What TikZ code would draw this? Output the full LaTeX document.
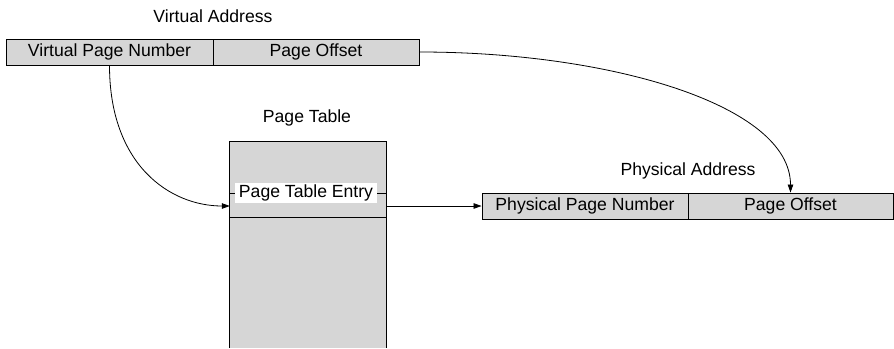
\documentclass[tikz,border=0pt]{standalone}
\usepackage{fontspec}
\setmainfont{Liberation Sans}
\usetikzlibrary{arrows.meta}
\definecolor{cellgray}{RGB}{214,214,214}
\tikzset{
  lbl/.style={font=\fontsize{17.6}{20}\selectfont, inner sep=0pt},
  field/.style={draw=black, fill=cellgray, line width=0.9pt, minimum height=26pt,
    inner sep=0pt, font=\fontsize{17.6}{20}\selectfont},
  link/.style={line width=0.8pt, -{Triangle[length=8pt,width=5.5pt]}},
}
\begin{document}
\begin{tikzpicture}[x=1pt,y=-1pt]
  \useasboundingbox (0,0) rectangle (894,348);

  % virtual address
  \node[lbl] (vatitle) at (213,16) {Virtual Address};
  \node[field, minimum width=207pt] (vpn) at (109.5,52) {Virtual Page Number};
  \node[field, minimum width=206pt] (voff) at (316,52) {Page Offset};

  % page table (open at the bottom)
  \node[lbl] (pttitle) at (307,118) {Page Table};
  \node[fill=cellgray, minimum width=156pt, minimum height=206pt, inner sep=0pt] (ptable) at (308,245) {};
  \draw[line width=0.9pt] (ptable.south west) -- (ptable.north west) -- (ptable.north east) -- (ptable.south east);
  \coordinate (entryy) at (0,193);
  \coordinate (rowy) at (0,217);
  \draw[line width=0.8pt] (ptable.west |- entryy) -- (ptable.east |- entryy);
  \draw[line width=0.8pt] (ptable.west |- rowy) -- (ptable.east |- rowy);
  \node[lbl, fill=white, inner xsep=3.5pt, minimum height=20pt] (pte) at (306,193) {Page Table Entry};

  % physical address
  \node[lbl] (patitle) at (688,171) {Physical Address};
  \node[field, minimum width=206pt] (ppn) at (585,206) {Physical Page Number};
  \node[field, minimum width=205pt] (poff) at (790.5,206) {Page Offset};

  % connectors
  \draw[link] (vpn.south) .. controls (109.5,165) and (170,206) .. (ptable.west |- ppn.west);
  \draw[link] (ptable.east |- ppn.west) -- (ppn.west);
  \draw[link] (voff.east) .. controls (610,52) and (790.5,105) .. (poff.north);
\end{tikzpicture}
\end{document}
